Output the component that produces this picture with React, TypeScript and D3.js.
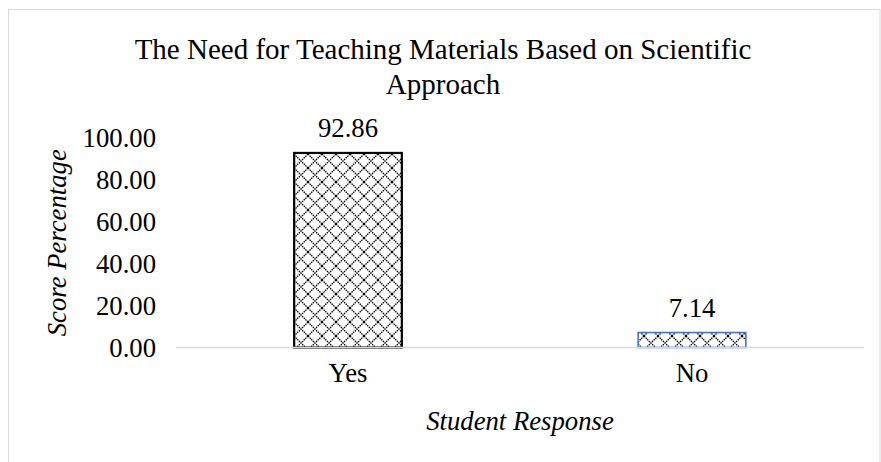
import React, { useEffect, useRef } from "react";
import * as d3 from "d3";

const categories = ["Yes", "No"];
const values = [92.86, 7.14];
const yTicks = [0, 20, 40, 60, 80, 100];
const titleLines = ["The Need for Teaching Materials Based on Scientific", "Approach"];
const xTitle = "Student Response";
const yTitle = "Score Percentage";

const width = 881;
const height = 462;
const plot = { left: 176, right: 864, top: 138, bottom: 347.5 };

const App: React.FC = () => {
  const svgRef = useRef<SVGSVGElement>(null);

  useEffect(() => {
    if (!svgRef.current) return;
    const svg = d3.select(svgRef.current);
    svg.selectAll("*").remove();

    const font = "'Liberation Serif', 'Times New Roman', serif";

    // crosshatch fill
    const defs = svg.append("defs");
    const pat = defs
      .append("pattern")
      .attr("id", "hatch")
      .attr("patternUnits", "userSpaceOnUse")
      .attr("width", 14)
      .attr("height", 14);
    pat.append("rect").attr("width", 14).attr("height", 14).attr("fill", "#fff");
    pat
      .append("path")
      .attr("d", "M0,0 L14,14 M14,0 L0,14")
      .attr("stroke", "#000")
      .attr("stroke-width", 1.3)
      .attr("stroke-dasharray", "1.5,0.8");

    // chart area border
    svg
      .append("rect")
      .attr("x", 8.5)
      .attr("y", 9.5)
      .attr("width", 871.5)
      .attr("height", 470)
      .attr("fill", "#fff")
      .attr("stroke", "#d9d9d9");

    const x = d3
      .scaleBand()
      .domain(categories)
      .range([plot.left, plot.right])
      .paddingInner(0.687)
      .paddingOuter(0.3435);

    const y = d3
      .scaleLinear()
      .domain([0, 100])
      .range([plot.bottom, plot.top]);

    // title
    svg
      .append("text")
      .attr("font-family", font)
      .attr("font-size", 29)
      .attr("text-anchor", "middle")
      .selectAll("tspan")
      .data(titleLines)
      .join("tspan")
      .attr("x", 443)
      .attr("y", (_, i) => 59 + i * 35)
      .text((d) => d);

    // y tick labels
    svg
      .append("g")
      .selectAll("text")
      .data(yTicks)
      .join("text")
      .attr("x", plot.left - 20)
      .attr("y", (d) => y(d))
      .attr("dy", "0.35em")
      .attr("text-anchor", "end")
      .attr("font-family", font)
      .attr("font-size", 26.7)
      .text((d) => d.toFixed(2));

    // bars
    svg
      .append("g")
      .selectAll("rect")
      .data(values)
      .join("rect")
      .attr("x", (_, i) => x(categories[i])!)
      .attr("y", (d) => y(d))
      .attr("width", x.bandwidth())
      .attr("height", (d) => y(0) - y(d))
      .attr("fill", "url(#hatch)")
      .attr("stroke", (_, i) => (i === 0 ? "#000" : "#4472c4"))
      .attr("stroke-width", (_, i) => (i === 0 ? 2.2 : 1.6));

    // value labels
    svg
      .append("g")
      .selectAll("text")
      .data(values)
      .join("text")
      .attr("x", (_, i) => x(categories[i])! + x.bandwidth() / 2)
      .attr("y", (d) => y(d) - 16)
      .attr("text-anchor", "middle")
      .attr("font-family", font)
      .attr("font-size", 26.7)
      .text((d) => d.toFixed(2));

    // x axis line
    svg
      .append("line")
      .attr("x1", plot.left)
      .attr("x2", plot.right)
      .attr("y1", y(0))
      .attr("y2", y(0))
      .attr("stroke", "#d9d9d9")
      .attr("stroke-width", 1.6);

    // category labels
    svg
      .append("g")
      .selectAll("text")
      .data(categories)
      .join("text")
      .attr("x", (d) => x(d)! + x.bandwidth() / 2)
      .attr("y", y(0) + 34)
      .attr("text-anchor", "middle")
      .attr("font-family", font)
      .attr("font-size", 26.7)
      .text((d) => d);

    // axis titles
    svg
      .append("text")
      .attr("x", (plot.left + plot.right) / 2)
      .attr("y", 430)
      .attr("text-anchor", "middle")
      .attr("font-family", font)
      .attr("font-style", "italic")
      .attr("font-size", 26.7)
      .text(xTitle);

    svg
      .append("text")
      .attr("transform", `translate(66, ${(y(0) + y(100)) / 2}) rotate(-90)`)
      .attr("text-anchor", "middle")
      .attr("font-family", font)
      .attr("font-style", "italic")
      .attr("font-size", 26.7)
      .text(yTitle);
  }, []);

  return (
    <svg
      ref={svgRef}
      width={width}
      height={height}
      style={{ position: "absolute", left: 0, top: 0 }}
    />
  );
};

export default App;
